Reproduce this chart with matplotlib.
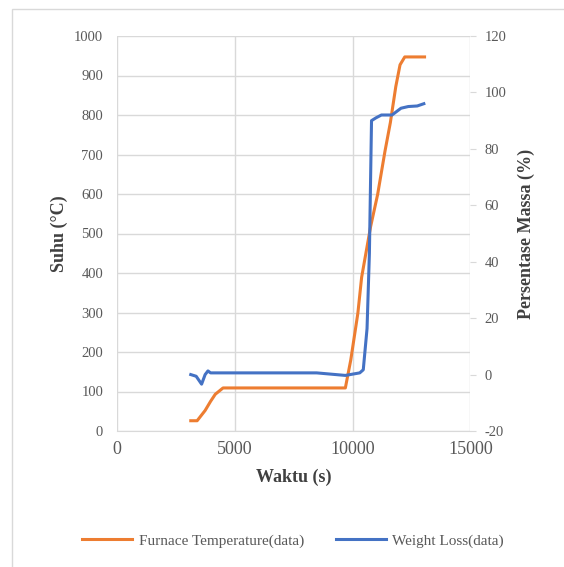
import numpy as np
import matplotlib.pyplot as plt
from matplotlib.patches import Rectangle

plt.rcParams['font.family'] = ['Liberation Serif', 'DejaVu Serif']
plt.rcParams['axes.unicode_minus'] = False

# furnace temperature (left axis)
temp_time = [3130, 3400, 3740, 3970, 4170, 4500, 9690, 9920, 10220, 10380,
             10760, 11060, 11370, 11600, 11830, 12010, 12210, 13050]
temp_val = [26, 26, 52, 75, 93, 109, 109, 180, 298, 389,
            517, 599, 708, 781, 872, 927, 947, 947]

# weight loss (right axis)
wl_time = [3130, 3360, 3590, 3740, 3860, 3970, 8470, 9690, 10300, 10450,
           10610, 10710, 10800, 10990, 11220, 11670, 12050, 12360, 12740, 13020]
wl_val = [0, -0.6, -3.4, 0, 1.3, 0.6, 0.6, -0.3, 0.6, 1.7,
          16.3, 43, 90, 91, 92, 92, 94.4, 95, 95.2, 96]

orange = '#ED7D31'
blue = '#4472C4'
grid_c = '#d9d9d9'
tick_c = '#595959'
label_c = '#404040'

fig = plt.figure(figsize=(5.64, 5.67), dpi=100)
fig.patches.append(Rectangle((12 / 564, -0.1), 1.2, 1 - 9 / 567 + 0.1,
                             transform=fig.transFigure, fill=False,
                             edgecolor=grid_c, lw=1))

ax = fig.add_axes([117 / 564, 1 - 431 / 567, 353.5 / 564, 395 / 567])
ax2 = ax.twinx()

l1, = ax.plot(temp_time, temp_val, color=orange, lw=2.2,
              label='Furnace Temperature(data)')
l2, = ax2.plot(wl_time, wl_val, color=blue, lw=2.2, label='Weight Loss(data)')

ax.set_xlim(0, 15000)
ax.set_ylim(0, 1000)
ax2.set_ylim(-20, 120)
ax.set_xticks(np.arange(0, 15001, 5000))
ax.set_yticks(np.arange(0, 1001, 100))
ax2.set_yticks(np.arange(-20, 121, 20))

ax.grid(True, color=grid_c, lw=1)
ax.set_axisbelow(True)
for a in (ax, ax2):
    for s in a.spines.values():
        s.set_visible(False)
ax.spines['bottom'].set_visible(True)
ax.spines['bottom'].set_color(grid_c)

ax.tick_params(axis='y', length=0, pad=10, labelsize=10.5, labelcolor=tick_c)
ax.tick_params(axis='x', length=0, pad=7, labelsize=13, labelcolor=tick_c)
ax2.tick_params(axis='y', length=4, color=grid_c, pad=6, labelsize=10.5,
                labelcolor=tick_c)

ax.set_xlabel('Waktu (s)', fontsize=13, fontweight='bold', color=label_c, labelpad=8)
ax.set_ylabel('Suhu (°C)', fontsize=13, fontweight='bold', color=label_c, labelpad=4)
ax2.set_ylabel('Persentase Massa (%)', fontsize=13, fontweight='bold',
               color=label_c, labelpad=8)

fig.legend(handles=[l1, l2], loc='center', bbox_to_anchor=(293 / 564, 1 - 541 / 567),
           ncol=2, frameon=False, fontsize=11, handlelength=3.3,
           handletextpad=0.4, columnspacing=2.1, labelcolor=tick_c)

fig.savefig('out.png', dpi=100)
